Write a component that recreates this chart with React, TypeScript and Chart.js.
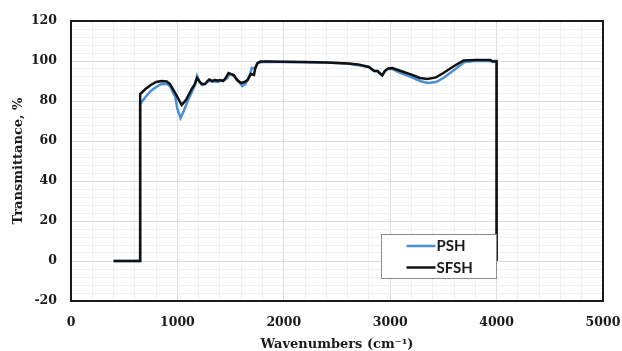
import React, { useEffect, useRef } from "react";
import { Chart, registerables } from "chart.js";

Chart.register(...registerables);

// PSH series (wavenumber, transmittance %)
const pshWavenumbers = [400, 650, 650, 700, 750, 800, 850, 900, 930, 980, 1000, 1030, 1060, 1100, 1140, 1165, 1185, 1210, 1230, 1260, 1290, 1320, 1350, 1380, 1410, 1440, 1470, 1490, 1520, 1550, 1580, 1610, 1640, 1680, 1700, 1730, 1760, 1800, 2000, 2200, 2400, 2600, 2800, 2850, 2880, 2900, 2925, 2950, 2980, 3020, 3100, 3200, 3280, 3350, 3430, 3500, 3600, 3700, 3800, 3990, 4000, 4000];
const pshValues = [0, 0, 78.5, 82, 85, 87, 88.5, 88.5, 87.5, 82, 76, 71.5, 75, 80.5, 85, 88, 92.5, 89.5, 88, 88.5, 90, 89.8, 89.8, 89.5, 90.2, 90.5, 91.5, 93.8, 93, 91.5, 89.5, 87.5, 88.5, 93, 96.5, 96.5, 99.3, 99.5, 99.5, 99.4, 99.2, 98.8, 97, 95, 95, 94, 92.8, 95, 96, 96, 94, 92, 90, 89, 89.5, 91.5, 95.5, 99.5, 100, 100, 100, 0];

// SFSH series
const sfshWavenumbers = [400, 650, 650, 700, 750, 800, 850, 900, 930, 980, 1040, 1080, 1110, 1140, 1160, 1185, 1210, 1230, 1260, 1280, 1300, 1330, 1350, 1380, 1400, 1430, 1450, 1480, 1500, 1530, 1560, 1600, 1630, 1660, 1690, 1720, 1730, 1750, 1780, 1850, 2000, 2200, 2400, 2600, 2700, 2800, 2850, 2880, 2900, 2925, 2950, 2980, 3020, 3100, 3200, 3280, 3350, 3430, 3500, 3600, 3690, 3800, 3940, 3960, 4000, 4000];
const sfshValues = [0, 0, 83.5, 86, 88, 89.5, 90, 89.8, 88.5, 84, 78, 80.5, 83.5, 86.5, 88, 91.5, 89.5, 88.5, 88.5, 89.8, 90.8, 90, 90.5, 90.2, 90.5, 90, 91.2, 94, 93.5, 93, 90.5, 89, 89.5, 90.5, 93.5, 93, 96, 98.8, 99.7, 99.7, 99.6, 99.5, 99.3, 98.8, 98.3, 97, 95, 95, 94, 92.8, 95, 96.3, 96.5, 95, 93.2, 91.5, 91, 91.8, 94, 97.5, 100.3, 100.5, 100.5, 99.7, 99.7, 0];

const seriesLabels = ["PSH", "SFSH"];
const seriesColors = ["#4a8fd4", "#111111"];

const xMin = 0, xMax = 5000, xMinorStep = 200, xMajorStep = 1000;
const yMin = -20, yMax = 120, yMinorStep = 4, yMajorStep = 20;

const xTitle = "Wavenumbers (cm\u207B\u00B9)";
const yTitle = "Transmittance, %";

const tickFont = { family: "'DejaVu Serif', serif", size: 12.5, weight: "bold" as const };
const titleFont = { family: "'DejaVu Serif', serif", size: 13, weight: "bold" as const, lineHeight: 1 };

function toPoints(xs: number[], ys: number[]) {
  return xs.map((x, i) => ({ x, y: ys[i] }));
}

const frameAndLegend = {
  id: "frameAndLegend",
  beforeDatasetsDraw(chart: any) {
    const { ctx, chartArea } = chart;
    ctx.save();
    ctx.strokeStyle = "#1a1a1a";
    ctx.lineWidth = 2;
    ctx.strokeRect(chartArea.left, chartArea.top, chartArea.right - chartArea.left, chartArea.bottom - chartArea.top);
    ctx.restore();
  },
  afterDraw(chart: any) {
    const { ctx } = chart;
    const xs = chart.scales.x;
    const ys = chart.scales.y;
    // legend box anchored in data space near lower right
    const boxL = Math.round(xs.getPixelForValue(2915)) + 0.5;
    const boxR = Math.round(xs.getPixelForValue(3990)) + 0.5;
    const boxT = Math.round(ys.getPixelForValue(13.7)) + 0.5;
    const boxB = Math.round(ys.getPixelForValue(-8.3)) + 0.5;
    ctx.save();
    ctx.fillStyle = "#ffffff";
    ctx.fillRect(boxL, boxT, boxR - boxL, boxB - boxT);
    ctx.strokeStyle = "#8c8c8c";
    ctx.lineWidth = 1;
    ctx.strokeRect(boxL, boxT, boxR - boxL, boxB - boxT);
    ctx.font = "bold 15px Lato, 'Liberation Sans', sans-serif";
    ctx.textBaseline = "middle";
    ctx.textAlign = "left";
    const rows = [boxT + 11.5, boxT + 33];
    chart.data.datasets.forEach((ds: any, i: number) => {
      const y = rows[i];
      ctx.strokeStyle = ds.borderColor;
      ctx.lineWidth = 2.5;
      ctx.beginPath();
      ctx.moveTo(boxL + 25, y);
      ctx.lineTo(boxL + 54, y);
      ctx.stroke();
      ctx.fillStyle = "#1a1a1a";
      ctx.fillText(ds.label, boxL + 55, y + 0.5);
    });
    ctx.restore();
  },
};

export default function App() {
  const ref = useRef<HTMLCanvasElement>(null);

  useEffect(() => {
    if (!ref.current) return;
    const chart = new Chart(ref.current, {
      type: "line",
      data: {
        datasets: [
          {
            label: seriesLabels[0],
            data: toPoints(pshWavenumbers, pshValues),
            borderColor: seriesColors[0],
            borderWidth: 2.5,
            pointRadius: 0,
            tension: 0,
            order: 1,
          },
          {
            label: seriesLabels[1],
            data: toPoints(sfshWavenumbers, sfshValues),
            borderColor: seriesColors[1],
            borderWidth: 2.5,
            pointRadius: 0,
            tension: 0,
            order: 0,
          },
        ],
      },
      plugins: [frameAndLegend],
      options: {
        responsive: false,
        animation: false,
        devicePixelRatio: 1,
        layout: { padding: { top: 21, right: 19, left: 0, bottom: 0 } },
        plugins: {
          legend: { display: false },
          tooltip: { enabled: false },
        },
        scales: {
          x: {
            type: "linear",
            min: xMin,
            max: xMax,
            afterFit: (s: any) => { s.height = 50; s.paddingRight = 0; s.paddingLeft = 0; },
            border: { display: false },
            grid: {
              drawTicks: false,
              lineWidth: 1,
              color: (c: any) => (c.tick && Math.round(c.tick.value) % xMajorStep === 0 ? "#dcdcdc" : "#f0f0f0"),
            },
            ticks: {
              stepSize: xMinorStep,
              autoSkip: false,
              maxRotation: 0,
              padding: 14,
              color: "#1a1a1a",
              font: tickFont,
              callback: (v: any) => (Math.round(v) % xMajorStep === 0 ? String(Math.round(v)) : ""),
            },
            title: {
              display: true,
              text: xTitle,
              color: "#1a1a1a",
              font: titleFont,
              padding: { top: 0, bottom: 0 },
            },
          },
          y: {
            type: "linear",
            min: yMin,
            max: yMax,
            afterFit: (s: any) => { s.width = 71; s.paddingTop = 0; s.paddingBottom = 0; },
            border: { display: false },
            grid: {
              drawTicks: false,
              lineWidth: 1,
              color: (c: any) => (c.tick && Math.round(c.tick.value) % yMajorStep === 0 ? "#dcdcdc" : "#f0f0f0"),
            },
            ticks: {
              stepSize: yMinorStep,
              autoSkip: false,
              padding: 14,
              color: "#1a1a1a",
              font: tickFont,
              callback: (v: any) => (Math.round(v) % yMajorStep === 0 ? String(Math.round(v)) : ""),
            },
            title: {
              display: true,
              text: yTitle,
              color: "#1a1a1a",
              font: titleFont,
              padding: { top: 12, bottom: 0 },
            },
          },
        },
      },
    } as any);
    return () => chart.destroy();
  }, []);

  return (
    <div style={{ position: "absolute", left: 0, top: 0, width: 622, height: 351, background: "#ffffff" }}>
      <canvas ref={ref} width={622} height={351} style={{ display: "block" }} />
    </div>
  );
}
